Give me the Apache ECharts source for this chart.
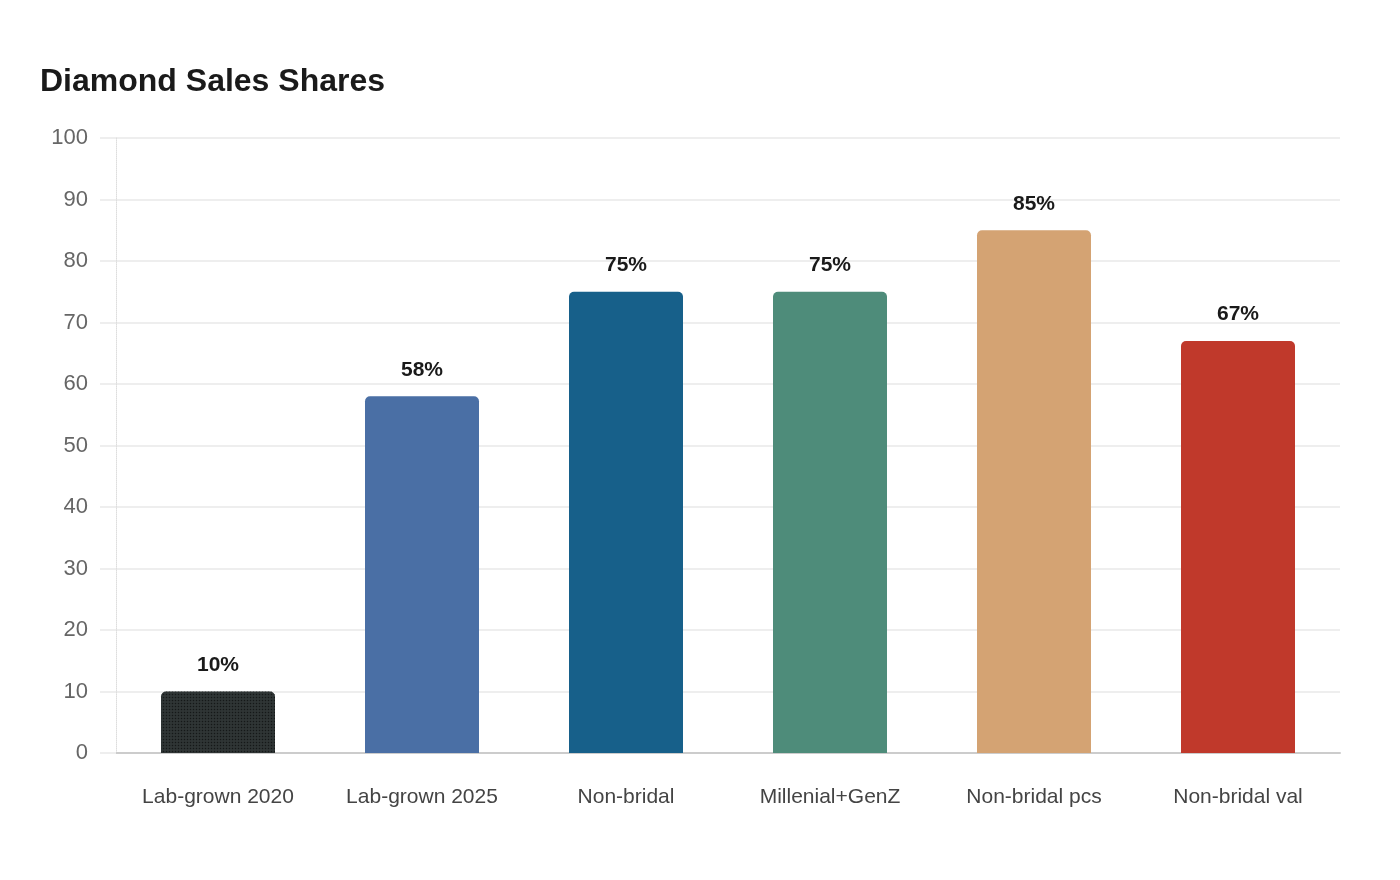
<!DOCTYPE html>
<html><head><meta charset="utf-8">
<script src="https://cdn.jsdelivr.net/npm/echarts@6/dist/echarts.min.js"></script>
<style>html,body{margin:0;padding:0;background:#fff}#c{width:1400px;height:880px}</style>
</head><body><div id="c"></div>
<script>
const categories = ['Lab-grown 2020','Lab-grown 2025','Non-bridal','Millenial+GenZ','Non-bridal pcs','Non-bridal val'];
const values = [10, 58, 75, 75, 85, 67];
const colors = ['#2f3535','#4a6fa5','#17608a','#4e8c7a','#d4a373','#c0392b'];
const yTicks = [0,10,20,30,40,50,60,70,80,90,100];

const chart = echarts.init(document.getElementById('c'), null, {renderer:'canvas'});
const font = '"Liberation Sans", Arial, sans-serif';
const dotDecal = {symbol:'circle', symbolSize:0.5, color:'rgba(0,0,0,0.55)', dashArrayX:[3,0], dashArrayY:[3,0], rotation:0};
chart.setOption({
  backgroundColor:'#fff',
  animation:false,
  title:{text:'Diamond Sales Shares', left:35, top:61, textStyle:{fontFamily:font, fontSize:32, fontWeight:'bold', color:'#1a1a1a'}},
  grid:{left:116, right:60, top:138, bottom:127, containLabel:false},
  xAxis:{type:'category', data:categories,
    axisLine:{lineStyle:{color:'#cccccc', width:2}},
    axisTick:{show:false},
    axisLabel:{fontFamily:font, fontSize:21, color:'#444', margin:34}},
  yAxis:{type:'value', min:yTicks[0], max:yTicks[yTicks.length-1], interval:10,
    axisLine:{show:true, lineStyle:{color:'#dddddd', type:'dotted', width:1}},
    axisTick:{show:true, length:16, lineStyle:{color:'#eeeeee', width:2}},
    splitLine:{lineStyle:{color:'#eeeeee', width:2}},
    axisLabel:{fontFamily:font, fontSize:22, color:'#666', margin:28, padding:[4,0,0,0]}},
  series:[{type:'bar', barWidth:114,
    data: values.map((v,i)=>{
      const it = {color:colors[i]};
      if(i===0) it.decal = dotDecal;
      return {value:v, itemStyle:it};
    }),
    itemStyle:{borderRadius:[5,5,0,0]},
    label:{show:true, position:'top', distance:16, formatter:p=>p.value+'%', fontFamily:font, fontSize:21, fontWeight:'bold', color:'#1a1a1a'}
  }]
});
</script></body></html>
